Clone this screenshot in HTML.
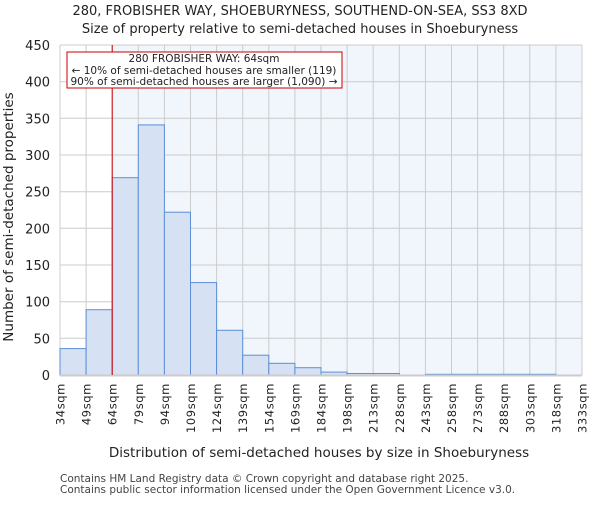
<!DOCTYPE html>
<html><head><meta charset="utf-8"><style>body{margin:0;background:#fff}</style></head><body>
<svg width="600" height="500" xmlns="http://www.w3.org/2000/svg" font-family="DejaVu Sans, Liberation Sans, sans-serif">
<rect width="600" height="500" fill="#fff"/>
<text x="300" y="15" font-size="13" text-anchor="middle" fill="#222">280, FROBISHER WAY, SHOEBURYNESS, SOUTHEND-ON-SEA, SS3 8XD</text>
<text x="300" y="33" font-size="13" text-anchor="middle" fill="#222">Size of property relative to semi-detached houses in Shoeburyness</text>
<rect x="112.2" y="45" width="469.8" height="330" fill="#f1f5fc"/>
<g stroke="#cccccc" stroke-width="1">
<line x1="60" y1="45" x2="582" y2="45"/><line x1="60" y1="81.7" x2="582" y2="81.7"/><line x1="60" y1="118.3" x2="582" y2="118.3"/><line x1="60" y1="155" x2="582" y2="155"/><line x1="60" y1="191.7" x2="582" y2="191.7"/><line x1="60" y1="228.3" x2="582" y2="228.3"/><line x1="60" y1="265" x2="582" y2="265"/><line x1="60" y1="301.7" x2="582" y2="301.7"/><line x1="60" y1="338.3" x2="582" y2="338.3"/>
<line x1="60" y1="45" x2="60" y2="375"/><line x1="86.1" y1="45" x2="86.1" y2="375"/><line x1="112.2" y1="45" x2="112.2" y2="375"/><line x1="138.3" y1="45" x2="138.3" y2="375"/><line x1="164.4" y1="45" x2="164.4" y2="375"/><line x1="190.5" y1="45" x2="190.5" y2="375"/><line x1="216.6" y1="45" x2="216.6" y2="375"/><line x1="242.7" y1="45" x2="242.7" y2="375"/><line x1="268.8" y1="45" x2="268.8" y2="375"/><line x1="294.9" y1="45" x2="294.9" y2="375"/><line x1="321" y1="45" x2="321" y2="375"/><line x1="347.1" y1="45" x2="347.1" y2="375"/><line x1="373.2" y1="45" x2="373.2" y2="375"/><line x1="399.3" y1="45" x2="399.3" y2="375"/><line x1="425.4" y1="45" x2="425.4" y2="375"/><line x1="451.5" y1="45" x2="451.5" y2="375"/><line x1="477.6" y1="45" x2="477.6" y2="375"/><line x1="503.7" y1="45" x2="503.7" y2="375"/><line x1="529.8" y1="45" x2="529.8" y2="375"/><line x1="555.9" y1="45" x2="555.9" y2="375"/><line x1="582" y1="45" x2="582" y2="375"/>
</g>
<g fill="#d6e1f3" stroke="#5b8fd6" stroke-width="1">
<rect x="60" y="348.6" width="26.1" height="26.4"/>
<rect x="86.1" y="309.7" width="26.1" height="65.3"/>
<rect x="112.2" y="177.7" width="26.1" height="197.3"/>
<rect x="138.3" y="124.9" width="26.1" height="250.1"/>
<rect x="164.4" y="212.2" width="26.1" height="162.8"/>
<rect x="190.5" y="282.6" width="26.1" height="92.4"/>
<rect x="216.6" y="330.3" width="26.1" height="44.7"/>
<rect x="242.7" y="355.2" width="26.1" height="19.8"/>
<rect x="268.8" y="363.3" width="26.1" height="11.7"/>
<rect x="294.9" y="367.7" width="26.1" height="7.3"/>
<rect x="321" y="372.1" width="26.1" height="2.9"/>
<rect x="347.1" y="373.5" width="26.1" height="1.5"/>
<rect x="373.2" y="373.5" width="26.1" height="1.5"/>
<rect x="425.4" y="374.3" width="26.1" height="0.7"/>
<rect x="451.5" y="374.3" width="26.1" height="0.7"/>
<rect x="477.6" y="374.3" width="26.1" height="0.7"/>
<rect x="503.7" y="374.3" width="26.1" height="0.7"/>
<rect x="529.8" y="374.3" width="26.1" height="0.7"/>
</g>
<line x1="60" y1="375.5" x2="582" y2="375.5" stroke="#cccccc" stroke-width="2"/>
<line x1="112.2" y1="45" x2="112.2" y2="375" stroke="#cc0000" stroke-width="1"/>
<rect x="67" y="52" width="275" height="36" fill="#fff" stroke="#cc0000" stroke-width="1"/>
<g font-size="10.5" text-anchor="middle" fill="#222">
<text x="204" y="62">280 FROBISHER WAY: 64sqm</text>
<text x="204" y="74">← 10% of semi-detached houses are smaller (119)</text>
<text x="204" y="85">90% of semi-detached houses are larger (1,090) →</text>
</g>
<g font-size="13" text-anchor="end" fill="#222">
<text x="50" y="50">450</text><text x="50" y="86.7">400</text><text x="50" y="123.3">350</text><text x="50" y="160">300</text><text x="50" y="196.7">250</text><text x="50" y="233.3">200</text><text x="50" y="270">150</text><text x="50" y="306.7">100</text><text x="50" y="343.3">50</text><text x="50" y="380">0</text>
</g>
<g font-size="11.5" text-anchor="end" fill="#222" letter-spacing="0.6">
<text transform="translate(64.5,383) rotate(-90)">34sqm</text>
<text transform="translate(90.6,383) rotate(-90)">49sqm</text>
<text transform="translate(116.7,383) rotate(-90)">64sqm</text>
<text transform="translate(142.8,383) rotate(-90)">79sqm</text>
<text transform="translate(168.9,383) rotate(-90)">94sqm</text>
<text transform="translate(195,383) rotate(-90)">109sqm</text>
<text transform="translate(221.1,383) rotate(-90)">124sqm</text>
<text transform="translate(247.2,383) rotate(-90)">139sqm</text>
<text transform="translate(273.3,383) rotate(-90)">154sqm</text>
<text transform="translate(299.4,383) rotate(-90)">169sqm</text>
<text transform="translate(325.5,383) rotate(-90)">184sqm</text>
<text transform="translate(351.6,383) rotate(-90)">198sqm</text>
<text transform="translate(377.7,383) rotate(-90)">213sqm</text>
<text transform="translate(403.8,383) rotate(-90)">228sqm</text>
<text transform="translate(429.9,383) rotate(-90)">243sqm</text>
<text transform="translate(456,383) rotate(-90)">258sqm</text>
<text transform="translate(482.1,383) rotate(-90)">273sqm</text>
<text transform="translate(508.2,383) rotate(-90)">288sqm</text>
<text transform="translate(534.3,383) rotate(-90)">303sqm</text>
<text transform="translate(560.4,383) rotate(-90)">318sqm</text>
<text transform="translate(586.5,383) rotate(-90)">333sqm</text>
</g>
<text x="319" y="457" font-size="13.5" text-anchor="middle" fill="#222">Distribution of semi-detached houses by size in Shoeburyness</text>
<text transform="translate(13,217) rotate(-90)" font-size="13.5" text-anchor="middle" fill="#222">Number of semi-detached properties</text>
<text x="60" y="482" font-size="10.5" fill="#444">Contains HM Land Registry data © Crown copyright and database right 2025.</text>
<text x="60" y="493" font-size="10.5" fill="#444">Contains public sector information licensed under the Open Government Licence v3.0.</text>
</svg>
</body></html>
